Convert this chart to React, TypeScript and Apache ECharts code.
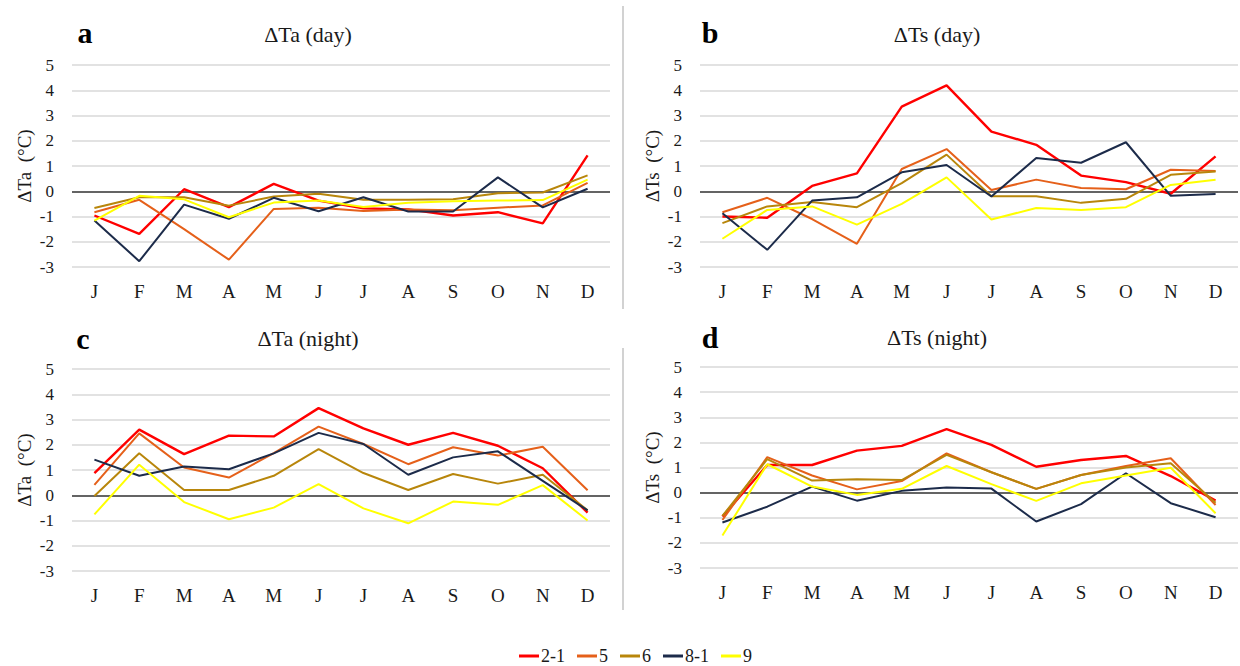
import React, { useEffect, useRef } from "react";
import * as echarts from "echarts";

const months = ["J", "F", "M", "A", "M", "J", "J", "A", "S", "O", "N", "D"];
const seriesNames = ["2-1", "5", "6", "8-1", "9"];
const seriesColors = ["#FF0000", "#E5601A", "#B8860B", "#1C2B4A", "#FFFF00"];

// Panel a: ΔTa (day)
const aDay21 = [-0.96, -1.69, 0.08, -0.63, 0.29, -0.37, -0.68, -0.72, -0.96, -0.83, -1.27, 1.42];
const aDay5 = [-0.83, -0.34, -1.5, -2.71, -0.7, -0.65, -0.78, -0.72, -0.75, -0.65, -0.56, 0.33];
const aDay6 = [-0.66, -0.24, -0.24, -0.57, -0.21, -0.1, -0.34, -0.34, -0.32, -0.08, -0.05, 0.63];
const aDay81 = [-1.16, -2.77, -0.53, -1.09, -0.26, -0.79, -0.24, -0.8, -0.8, 0.55, -0.64, 0.1];
const aDay9 = [-1.16, -0.18, -0.32, -1.03, -0.45, -0.37, -0.62, -0.46, -0.4, -0.37, -0.35, 0.46];

// Panel b: ΔTs (day)
const sDay21 = [-1.0, -1.05, 0.21, 0.71, 3.35, 4.19, 2.36, 1.84, 0.62, 0.36, -0.1, 1.38];
const sDay5 = [-0.83, -0.26, -1.1, -2.08, 0.88, 1.67, 0.05, 0.46, 0.13, 0.08, 0.85, 0.8];
const sDay6 = [-1.26, -0.6, -0.43, -0.63, 0.32, 1.45, -0.2, -0.2, -0.46, -0.3, 0.65, 0.78];
const sDay81 = [-0.87, -2.32, -0.37, -0.24, 0.75, 1.04, -0.21, 1.32, 1.13, 1.94, -0.18, -0.11];
const sDay9 = [-1.88, -0.74, -0.6, -1.32, -0.5, 0.55, -1.12, -0.66, -0.74, -0.63, 0.25, 0.46];

// Panel c: ΔTa (night)
const aNight21 = [0.88, 2.6, 1.63, 2.36, 2.33, 3.45, 2.65, 2.0, 2.47, 1.96, 1.07, -0.69];
const aNight5 = [0.41, 2.45, 1.1, 0.7, 1.67, 2.72, 2.03, 1.23, 1.9, 1.57, 1.92, 0.2];
const aNight6 = [-0.03, 1.66, 0.21, 0.21, 0.77, 1.83, 0.88, 0.21, 0.84, 0.46, 0.81, -0.6];
const aNight81 = [1.41, 0.77, 1.14, 1.03, 1.66, 2.47, 2.03, 0.81, 1.5, 1.74, 0.57, -0.6];
const aNight9 = [-0.76, 1.21, -0.27, -0.95, -0.49, 0.44, -0.52, -1.11, -0.25, -0.38, 0.4, -1.0];

// Panel d: ΔTs (night)
const sNight21 = [-0.95, 1.1, 1.1, 1.67, 1.86, 2.53, 1.9, 1.03, 1.3, 1.46, 0.66, -0.32];
const sNight5 = [-1.09, 1.41, 0.68, 0.13, 0.46, 1.56, 0.81, 0.15, 0.7, 1.06, 1.37, -0.49];
const sNight6 = [-0.93, 1.33, 0.48, 0.53, 0.5, 1.5, 0.81, 0.15, 0.7, 1.0, 1.17, -0.4];
const sNight81 = [-1.19, -0.56, 0.24, -0.32, 0.07, 0.2, 0.16, -1.15, -0.46, 0.77, -0.42, -0.98];
const sNight9 = [-1.71, 1.13, 0.24, -0.09, 0.15, 1.06, 0.34, -0.33, 0.37, 0.68, 0.99, -0.82];

const panelData = [
  [aDay21, aDay5, aDay6, aDay81, aDay9],
  [sDay21, sDay5, sDay6, sDay81, sDay9],
  [aNight21, aNight5, aNight6, aNight81, aNight9],
  [sNight21, sNight5, sNight6, sNight81, sNight9],
];
const panelTitles = ["ΔTa (day)", "ΔTs (day)", "ΔTa (night)", "ΔTs (night)"];
const panelLetters = ["a", "b", "c", "d"];
const yAxisNames = ["ΔTa  (°C)", "ΔTs  (°C)", "ΔTa  (°C)", "ΔTs  (°C)"];
const yMin = -3;
const yMax = 5;
const yInterval = 1;

const FONT = "Liberation Serif, Times New Roman, Times, DejaVu Serif, serif";

// layout
const grids = [
  { left: 72, top: 65, width: 538, height: 202 },
  { left: 700, top: 65, width: 538, height: 202 },
  { left: 72, top: 369, width: 538, height: 202 },
  { left: 700, top: 367, width: 538, height: 201 },
];
const titlePos = [
  { x: 308, y: 34, lx: 85, ly: 32 },
  { x: 937, y: 34, lx: 710, ly: 32 },
  { x: 308, y: 338, lx: 83, ly: 338 },
  { x: 937, y: 337, lx: 710, ly: 337 },
];

export default function App() {
  const ref = useRef<HTMLDivElement>(null);
  useEffect(() => {
    document.body.style.margin = "0";
    if (!ref.current) return;
    const chart = echarts.init(ref.current, null, { renderer: "svg" });

    const xAxis = grids.map((_, i) => ({
      type: "category",
      gridIndex: i,
      data: months,
      boundaryGap: true,
      axisLine: { show: false },
      axisTick: { show: false },
      axisLabel: {
        margin: 15,
        fontFamily: FONT,
        fontSize: 19,
        color: "#1a1a1a",
        interval: 0,
      },
      splitLine: { show: false },
    }));

    const yAxis = grids.map((_, i) => ({
      type: "value",
      gridIndex: i,
      min: yMin,
      max: yMax,
      interval: yInterval,
      name: yAxisNames[i],
      nameLocation: "middle",
      nameRotate: 90,
      nameGap: 38,
      nameTextStyle: { fontFamily: FONT, fontSize: 19, color: "#1a1a1a" },
      axisLine: { show: false },
      axisTick: { show: false },
      axisLabel: {
        margin: 18,
        fontFamily: FONT,
        fontSize: 17,
        color: "#1a1a1a",
      },
      splitLine: { show: true, lineStyle: { color: "#D9D9D9", width: 1.5 } },
    }));

    const series: any[] = [];
    panelData.forEach((sets, p) => {
      sets.forEach((vals, k) => {
        const s: any = {
          type: "line",
          name: seriesNames[k],
          xAxisIndex: p,
          yAxisIndex: p,
          data: vals,
          symbol: "none",
          lineStyle: { color: seriesColors[k], width: k === 0 ? 2.4 : 2 },
          itemStyle: { color: seriesColors[k] },
          z: 3,
        };
        if (k === 0) {
          s.markLine = {
            silent: true,
            symbol: "none",
            label: { show: false },
            lineStyle: { color: "#3A3A3A", width: 1.5, type: "solid" },
            data: [{ yAxis: 0 }],
            z: 1,
          };
        }
        series.push(s);
      });
    });

    const graphic: any[] = [];
    titlePos.forEach((t, i) => {
      graphic.push({
        type: "text",
        x: t.x,
        y: t.y,
        style: {
          text: panelTitles[i],
          fontFamily: FONT,
          fontSize: 22,
          fill: "#1a1a1a",
          align: "center",
          verticalAlign: "middle",
        },
      });
      graphic.push({
        type: "text",
        x: t.lx,
        y: t.ly,
        style: {
          text: panelLetters[i],
          fontFamily: FONT,
          fontSize: 30,
          fontWeight: "bold",
          fill: "#000",
          align: "center",
          verticalAlign: "middle",
        },
      });
    });
    graphic.push({
      type: "line",
      shape: { x1: 623, y1: 6, x2: 623, y2: 309 },
      style: { stroke: "#D2D2D2", lineWidth: 2 },
    });
    graphic.push({
      type: "line",
      shape: { x1: 623, y1: 348, x2: 623, y2: 610 },
      style: { stroke: "#D2D2D2", lineWidth: 2 },
    });

    chart.setOption({
      animation: false,
      backgroundColor: "#ffffff",
      textStyle: { fontFamily: FONT },
      grid: grids.map((g) => ({ ...g, containLabel: false })),
      xAxis,
      yAxis,
      legend: {
        data: seriesNames,
        left: 514,
        top: 642,
        icon: "rect",
        itemWidth: 20,
        itemHeight: 3,
        itemGap: 12,
        textStyle: { fontFamily: FONT, fontSize: 18, color: "#1a1a1a", padding: [0, 0, 0, -3] },
      },
      graphic,
      series,
    });

    return () => {
      chart.dispose();
    };
  }, []);

  return <div ref={ref} style={{ width: 1240, height: 666 }} />;
}
